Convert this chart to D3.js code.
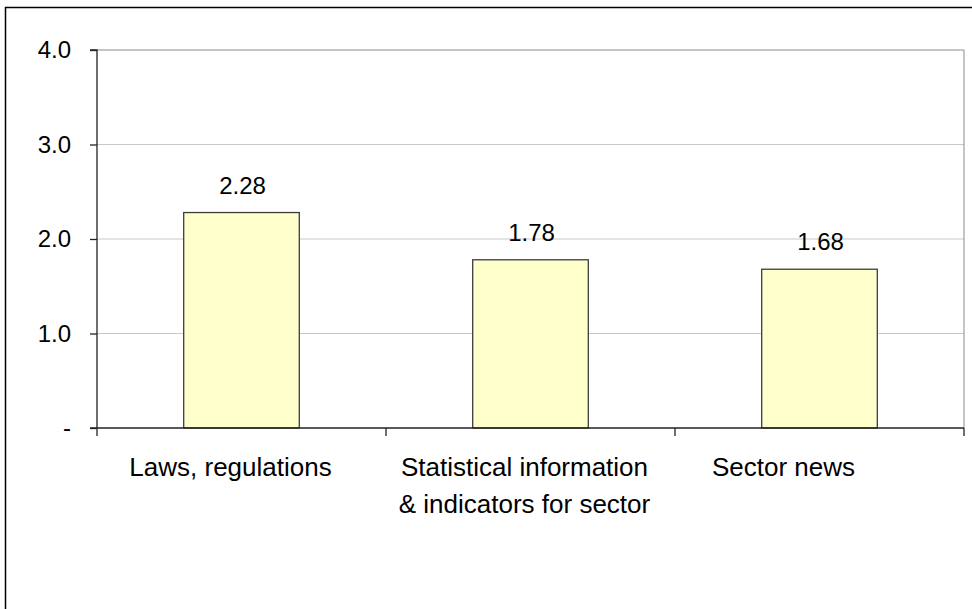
<!DOCTYPE html>
<html>
<head>
<meta charset="utf-8">
<script src="https://cdn.jsdelivr.net/npm/d3@7"></script>
<style>
  html, body { margin: 0; padding: 0; background: #fff; }
  svg { display: block; font-family: "Liberation Sans", Arial, sans-serif; }
</style>
</head>
<body>
<svg id="chart" width="972" height="609"></svg>
<script>
// Average rating per type of information
const categories = ["Laws, regulations", "Statistical information\n& indicators for sector", "Sector news"];
const values = [2.28, 1.78, 1.68];
const yTicks = [0, 1, 2, 3, 4];
const yTickLabels = ["-", "1.0", "2.0", "3.0", "4.0"];

const svg = d3.select("#chart");
const plot = { left: 97, right: 964, top: 50, bottom: 428 };
// horizontal nudge of each wrapped category label inside its slot
const labelShift = [-11, -6, -36];

// outer chart frame
svg.append("rect")
  .attr("x", 5.5).attr("y", 7.5)
  .attr("width", 1000).attr("height", 700)
  .attr("fill", "none").attr("stroke", "#000").attr("stroke-width", 1.5);

const x = d3.scaleBand()
  .domain(categories)
  .range([plot.left, plot.right])
  .paddingInner(0.6)
  .paddingOuter(0.3);

const y = d3.scaleLinear().domain([0, 4]).range([plot.bottom, plot.top]);

// gridlines
svg.append("g").selectAll("line")
  .data(yTicks.filter(d => d > 0 && d < 4))
  .join("line")
  .attr("x1", plot.left).attr("x2", plot.right)
  .attr("y1", d => y(d)).attr("y2", d => y(d))
  .attr("stroke", "#c8c8c8").attr("stroke-width", 1);

// plot area border (top and right)
svg.append("path")
  .attr("d", `M${plot.left},${y(4)}H${plot.right}V${plot.bottom}`)
  .attr("fill", "none").attr("stroke", "#8c8c8c").attr("stroke-width", 1);

// bars
svg.append("g").selectAll("rect")
  .data(values)
  .join("rect")
  .attr("x", (d, i) => x(categories[i]))
  .attr("width", x.bandwidth())
  .attr("y", d => y(d))
  .attr("height", d => y(0) - y(d))
  .attr("fill", "#ffffcc")
  .attr("stroke", "#3c3c3c").attr("stroke-width", 1.3);

// value labels
svg.append("g").selectAll("text")
  .data(values)
  .join("text")
  .attr("x", (d, i) => x(categories[i]) + x.bandwidth() / 2 + 1)
  .attr("y", d => y(d) - 19)
  .attr("text-anchor", "middle")
  .attr("font-size", 24)
  .attr("fill", "#000")
  .text(d => d.toFixed(2));

// y axis
const yAxis = d3.axisLeft(y)
  .tickValues(yTicks)
  .tickSize(7)
  .tickPadding(19)
  .tickFormat((d, i) => yTickLabels[i]);
const gy = svg.append("g").attr("transform", `translate(${plot.left},0)`).call(yAxis);
gy.select(".domain").attr("stroke", "#222").attr("stroke-width", 1.3).attr("d", `M-7,${plot.top}H0V${plot.bottom}`);
gy.selectAll(".tick line").attr("stroke", "#222").attr("stroke-width", 1.3);
gy.selectAll(".tick text")
  .attr("font-size", 24)
  .attr("font-family", "Liberation Sans, Arial, sans-serif")
  .attr("fill", "#000");

// x axis with ticks at category boundaries
const boundaries = d3.range(categories.length + 1).map(i => plot.left + i * x.step());
const gx = svg.append("g");
gx.append("line")
  .attr("x1", plot.left - 7).attr("x2", plot.right)
  .attr("y1", plot.bottom).attr("y2", plot.bottom)
  .attr("stroke", "#222").attr("stroke-width", 1.3);
gx.selectAll("line.tk")
  .data(boundaries)
  .join("line")
  .attr("class", "tk")
  .attr("x1", d => d).attr("x2", d => d)
  .attr("y1", plot.bottom).attr("y2", plot.bottom + 8)
  .attr("stroke", "#222").attr("stroke-width", 1.3);

// category labels
const lab = gx.selectAll("text.cat")
  .data(categories)
  .join("text")
  .attr("class", "cat")
  .attr("x", (d, i) => x(d) + x.bandwidth() / 2 + labelShift[i])
  .attr("y", plot.bottom + 48)
  .attr("text-anchor", "middle")
  .attr("font-size", 26)
  .attr("fill", "#000");
lab.selectAll("tspan")
  .data(d => d.split("\n"))
  .join("tspan")
  .attr("x", function () { return this.parentNode.getAttribute("x"); })
  .attr("dy", (d, i) => i === 0 ? 0 : 37)
  .text(d => d);
</script>
</body>
</html>
